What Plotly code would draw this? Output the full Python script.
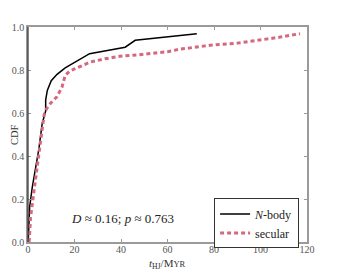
import plotly.graph_objects as go

# N-body CDF
nbody_t = [0.1, 0.7, 1.85, 3.0, 4.7, 6.1, 6.9, 7.6, 7.6, 8.3, 10.0, 12.5, 16.0, 21.0, 26.5, 41.8, 46.1, 72.6]
nbody_cdf = [0, 0.162, 0.255, 0.33, 0.434, 0.55, 0.58, 0.61, 0.66, 0.705, 0.75, 0.78, 0.81, 0.84, 0.876, 0.906, 0.938, 0.969]

# secular CDF
secular_t = [0.5, 1.1, 2.6, 4.0, 5.4, 6.9, 8.0, 9.7, 12.4, 14.6, 16.0, 18.0, 20.3, 23.5, 26.8, 33.0, 39.6, 47.0,
             53.9, 60.0, 65.4, 72.0, 78.4, 90.0, 99.9, 108.0, 117.0]
secular_cdf = [0, 0.115, 0.24, 0.35, 0.47, 0.59, 0.62, 0.645, 0.675, 0.72, 0.775, 0.795, 0.806, 0.823, 0.837, 0.852,
               0.864, 0.870, 0.877, 0.885, 0.897, 0.906, 0.915, 0.925, 0.938, 0.952, 0.969]

x_ticks = [0, 20, 40, 60, 80, 100, 120]
y_ticks = [0.0, 0.2, 0.4, 0.6, 0.8, 1.0]
y_tick_labels = ["0.0", "0.2", "0.4", "0.6", "0.8", "1.0"]

FONT = "Liberation Serif"
GREY = "#9a9a9a"

fig = go.Figure()
fig.add_trace(go.Scatter(x=nbody_t, y=nbody_cdf, mode="lines", name="<i>N</i>-body",
                         line=dict(color="black", width=1.5)))
fig.add_trace(go.Scatter(x=secular_t, y=secular_cdf, mode="lines", name="secular",
                         line=dict(color="#d4687e", width=3, dash="4px,3px")))

fig.update_layout(
    width=343, height=270,
    margin=dict(l=28, r=36, t=27, b=28),
    paper_bgcolor="white", plot_bgcolor="white",
    font=dict(family=FONT, color="#333"),
    showlegend=True,
    legend=dict(x=0.667, y=0.2025, xanchor="left", yanchor="top",
                bordercolor="#333", borderwidth=1, bgcolor="white",
                font=dict(family=FONT, size=12, color="#222"),
                tracegroupgap=0, itemwidth=30),
    xaxis=dict(range=[0, 120], tickvals=x_ticks, ticks="inside", ticklen=3, tickcolor=GREY,
               showline=True, linecolor=GREY, linewidth=1.5, mirror="ticks", showgrid=False, zeroline=False,
               tickfont=dict(family=FONT, size=10, color="#555"), automargin=False,
               ticklabelstandoff=-3),
    yaxis=dict(range=[0, 1], tickvals=y_ticks, ticktext=y_tick_labels, ticks="inside", ticklen=3, tickcolor=GREY,
               showline=True, linecolor=GREY, linewidth=1.5, mirror="ticks", showgrid=False, zeroline=False,
               tickfont=dict(family=FONT, size=10, color="#555"), automargin=False),
)

fig.add_shape(type="line", xref="paper", yref="paper", x0=0, x1=0, y0=0, y1=1,
              line=dict(color="#333", width=1.2), layer="above")

fig.add_annotation(x=-0.075, y=0.5, xref="paper", yref="paper", showarrow=False, textangle=-90,
                   text="CDF", font=dict(family=FONT, size=10.5, color="#333"))

fig.add_annotation(x=0.5, y=-0.1, xref="paper", yref="paper", showarrow=False, yanchor="middle",
                   borderpad=0,
                   text="<i>t</i><sub>HJ</sub>/M<span style='font-size:8.5px'>YR</span>",
                   font=dict(family=FONT, size=11, color="#333"))

fig.add_annotation(x=40.5, y=0.108, xref="x", yref="y", showarrow=False,
                   text="<i>D</i> ≈ 0.16; <i>p</i> ≈ 0.763",
                   font=dict(family=FONT, size=13, color="#222"))

fig.write_html("out.html", config={"displayModeBar": False},
               post_script="document.body.style.margin='0px';document.body.style.padding='0px';")
